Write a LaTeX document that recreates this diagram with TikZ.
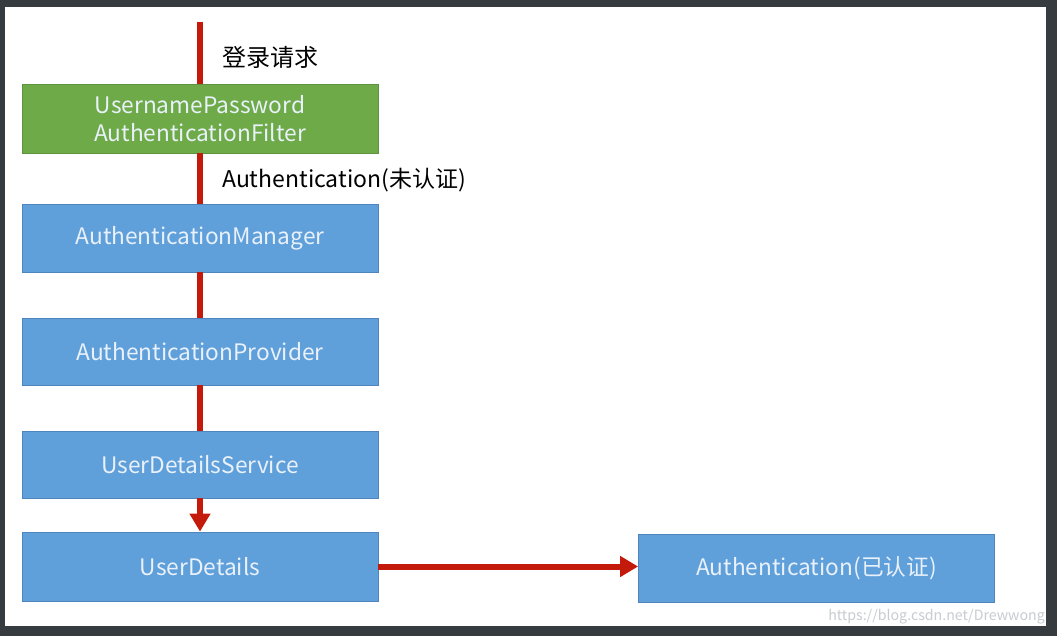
\documentclass[tikz,border=0pt]{standalone}
\usepackage{fontspec}
\setmainfont{Noto Sans CJK SC}
\usetikzlibrary{arrows.meta}
\definecolor{frame}{HTML}{363B3F}
\definecolor{boxblue}{HTML}{5F9FDA}
\definecolor{boxblueb}{HTML}{4F86BD}
\definecolor{boxgreen}{HTML}{6EAA48}
\definecolor{boxgreenb}{HTML}{5E9340}
\definecolor{flowred}{HTML}{C41A0C}
\definecolor{boxtext}{HTML}{E9F1FA}
\definecolor{wmark}{HTML}{C8CCD0}
\tikzset{
  bluebox/.style={draw=boxblueb, fill=boxblue, line width=0.8pt, inner sep=0pt,
    minimum width=356pt, minimum height=68pt, text=boxtext, font=\fontsize{22.7}{28}\selectfont, align=center},
  greenbox/.style={bluebox, draw=boxgreenb, fill=boxgreen},
  flow/.style={draw=flowred, line width=6pt},
  flowarrow/.style={flow, -{Triangle[length=18pt,width=20pt]}},
  lbl/.style={anchor=west, inner sep=0pt, font=\fontsize{23}{27}\selectfont, text=black}
}
\begin{document}
\begin{tikzpicture}[x=1pt,y=-1pt]
\useasboundingbox (0,0) rectangle (1057,636);
\fill[frame] (0,0) rectangle (1057,636);
\fill[white] (5,7) rectangle (1046,626);
\node[greenbox, minimum height=69pt] (filter) at (200,118.5) {UsernamePassword\\AuthenticationFilter};
\node[bluebox] (manager) at (200,238) {AuthenticationManager};
\node[bluebox, minimum height=67pt] (provider) at (200,351.5) {AuthenticationProvider};
\node[bluebox, minimum height=67pt] (uds) at (200,464.5) {UserDetailsService};
\node[bluebox, minimum height=69pt] (ud) at (200,566.5) {UserDetails};
\node[bluebox] (auth) at (816.5,568) {Authentication(已认证)};
\coordinate (start) at (200,22);
\node[lbl, font=\fontsize{24}{28}\selectfont] (req) at (222,57) {登录请求};
\node[lbl] (unauth) at (222,180) {Authentication(未认证)};
\node[anchor=east, inner sep=0pt, text=wmark, font=\fontsize{14.2}{16}\selectfont] (wm) at (1045,617) {https://blog.csdn.net/Drewwong};
\draw[flow] (start) -- (filter.north);
\draw[flow] (filter.south) -- (manager.north);
\draw[flow] (manager.south) -- (provider.north);
\draw[flow] (provider.south) -- (uds.north);
\draw[flowarrow] (uds.south) -- (ud.north);
\draw[flowarrow] (ud.east) -- (ud.east -| auth.west);
\end{tikzpicture}
\end{document}
